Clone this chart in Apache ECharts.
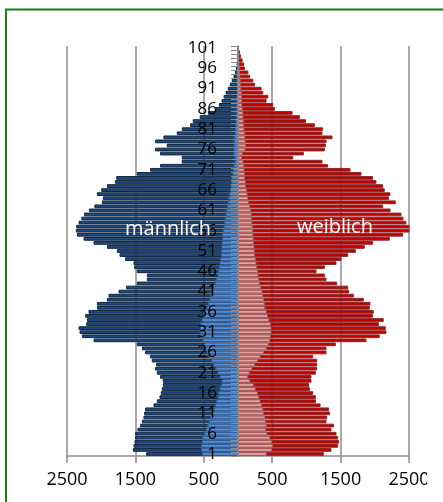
<html>
<head>
  <meta charset="utf-8" />
  <script src="https://cdn.jsdelivr.net/npm/echarts@6/dist/echarts.min.js"></script>
  <style>
    html, body { margin: 0; padding: 0; background: #fff; }
    #chart { width: 443px; height: 502px; }
  </style>
</head>
<body>
  <div id="chart"></div>
  <script>
    // ages 1..101 (bottom to top)
    var ages = [];
    for (var a = 1; a <= 101; a++) ages.push(String(a));

    var xTicks = [-2500, -1500, -500, 500, 1500, 2500];

    var maleTotal = [
      1343, 1538, 1528, 1513, 1504, 1504, 1470, 1430, 1406, 1382,
      1372, 1358, 1236, 1187, 1148, 1129, 1114, 1100, 1100, 1139,
      1187, 1212, 1197, 1260, 1285, 1358, 1406, 1479, 2112, 2282,
      2316, 2331, 2219, 2209, 2234, 2185, 2063, 2063, 1917, 1893,
      1747, 1635, 1479, 1333, 1333, 1479, 1518, 1528, 1650, 1732,
      1771, 1917, 2112, 2258, 2355, 2370, 2365, 2330, 2290, 2250,
      2180, 2100, 1990, 1976, 2063, 2000, 1917, 1800, 1781, 1479,
      1285, 1139, 822, 822, 1139, 1212, 1041, 1212, 1090, 895,
      822, 700, 662, 560, 440, 330, 280, 240, 210, 180,
      150, 120, 90, 65, 45, 30, 20, 12, 8, 5,
      3
    ];
    var maleInner = [
      530, 540, 540, 530, 520, 500, 470, 450, 430, 410,
      380, 360, 340, 320, 300, 290, 270, 250, 240, 270,
      300, 330, 360, 390, 420, 450, 480, 500, 520, 540,
      560, 560, 550, 530, 510, 490, 460, 440, 420, 400,
      380, 360, 340, 320, 300, 290, 280, 270, 260, 250,
      250, 240, 240, 230, 230, 220, 210, 200, 190, 180,
      170, 160, 150, 140, 130, 120, 110, 100, 95, 80,
      70, 65, 50, 50, 65, 65, 60, 60, 55, 50,
      45, 40, 38, 35, 30, 28, 25, 22, 20, 18,
      15, 13, 11, 9, 8, 6, 5, 4, 3, 2,
      2
    ];
    var femaleTotal = [
      1255, 1367, 1465, 1479, 1465, 1440, 1367, 1406, 1294, 1304,
      1343, 1333, 1207, 1139, 1139, 1100, 1051, 1041, 1075, 1075,
      1139, 1158, 1158, 1158, 1100, 1294, 1294, 1431, 1878, 2073,
      2170, 2161, 2063, 2131, 1976, 1985, 1927, 1937, 1839, 1693,
      1625, 1611, 1450, 1294, 1270, 1148, 1270, 1440, 1513, 1611,
      1723, 1854, 1976, 2219, 2414, 2535, 2511, 2462, 2420, 2390,
      2230, 2122, 2307, 2209, 2229, 2146, 2122, 2024, 1976, 1805,
      1645, 1318, 1236, 808, 963, 1270, 1285, 1294, 1382, 1236,
      1246, 1124, 993, 905, 798, 540, 516, 418, 443, 370,
      345, 248, 224, 175, 151, 102, 88, 68, 44, 29,
      10
    ];
    var femaleInner = [
      420, 500, 510, 500, 470, 430, 410, 420, 410, 400,
      380, 370, 350, 330, 310, 290, 260, 230, 180, 150,
      170, 210, 250, 290, 330, 380, 420, 450, 470, 480,
      490, 490, 480, 460, 440, 420, 400, 390, 380, 370,
      360, 340, 320, 310, 300, 290, 280, 270, 260, 250,
      245, 240, 235, 230, 225, 220, 215, 210, 205, 200,
      190, 180, 160, 150, 140, 130, 120, 115, 105, 100,
      95, 90, 80, 60, 70, 110, 115, 110, 105, 100,
      95, 90, 85, 80, 78, 70, 65, 60, 58, 55,
      50, 45, 40, 35, 30, 25, 20, 15, 10, 8,
      5
    ];

    var neg = function (arr) { return arr.map(function (v) { return -v; }); };

    var chart = echarts.init(document.getElementById('chart'));
    var grey = '#8c8c8c';
    var font = '"Open Sans", "DejaVu Sans", sans-serif';

    // grid spans 67..409 px, so value 0 sits 171 px right of the left edge
    var gridLeft = 67, gridRight = 34;
    var zeroShift = (443 - gridLeft - gridRight) / 2;

    var option = {
      animation: false,
      grid: { left: gridLeft, right: gridRight, top: 46, bottom: 46, containLabel: false },
      xAxis: {
        type: 'value',
        min: xTicks[0],
        max: xTicks[xTicks.length - 1],
        interval: 1000,
        axisLine: { show: true, lineStyle: { color: grey, width: 1.5 } },
        axisTick: { show: true, length: 7, lineStyle: { color: grey, width: 1.5 } },
        splitLine: { show: true, lineStyle: { color: grey, width: 1.5 } },
        axisLabel: {
          margin: 15,
          fontFamily: font,
          fontSize: 18,
          color: '#000',
          formatter: function (v) { return String(Math.abs(v)); }
        }
      },
      yAxis: {
        type: 'category',
        data: ages,
        z: 10,
        position: 'left',
        offset: -zeroShift,
        axisLine: { show: true, onZero: false, lineStyle: { color: grey, width: 1.5 } },
        axisTick: { show: true, interval: 0, length: 7, lineStyle: { color: grey, width: 1 } },
        axisLabel: {
          interval: 4,
          margin: 21,
          fontFamily: font,
          fontSize: 17,
          color: '#000'
        },
        splitLine: { show: false }
      },
      series: [
        {
          name: 'männlich', type: 'bar', data: neg(maleTotal),
          barWidth: '92%', barGap: '-100%',
          itemStyle: { color: '#1f497d', borderColor: '#10253f', borderWidth: 1 }
        },
        {
          name: 'männlich inner', type: 'bar', data: neg(maleInner),
          barWidth: '92%', barGap: '-100%',
          itemStyle: { color: '#5a8ed2', borderColor: '#2f5d96', borderWidth: 1 }
        },
        {
          name: 'weiblich', type: 'bar', data: femaleTotal,
          barWidth: '92%', barGap: '-100%',
          itemStyle: { color: '#c00000', borderColor: '#8c2a2a', borderWidth: 1 }
        },
        {
          name: 'weiblich inner', type: 'bar', data: femaleInner,
          barWidth: '92%', barGap: '-100%',
          itemStyle: { color: '#e6a3a3', borderColor: '#a45a5a', borderWidth: 1 }
        }
      ],
      graphic: [
        {
          type: 'text', z: 50, left: 125, top: 219,
          style: { text: 'männlich', fill: '#fff', font: '20px ' + font }
        },
        {
          type: 'text', z: 50, left: 297, top: 217,
          style: { text: 'weiblich', fill: '#fff', font: '20px ' + font }
        },
        // clip like the original frame
        {
          type: 'rect', z: 60, shape: { x: 8, y: 487, width: 440, height: 20 },
          style: { fill: '#fff' }
        },
        {
          type: 'rect', z: 60, shape: { x: 427, y: 462, width: 20, height: 40 },
          style: { fill: '#fff' }
        },
        {
          type: 'rect', z: 70, shape: { x: 6, y: 9.5, width: 500, height: 520 },
          style: { fill: 'none', stroke: '#217a21', lineWidth: 2 }
        }
      ]
    };
    chart.setOption(option);
  </script>
</body>
</html>
